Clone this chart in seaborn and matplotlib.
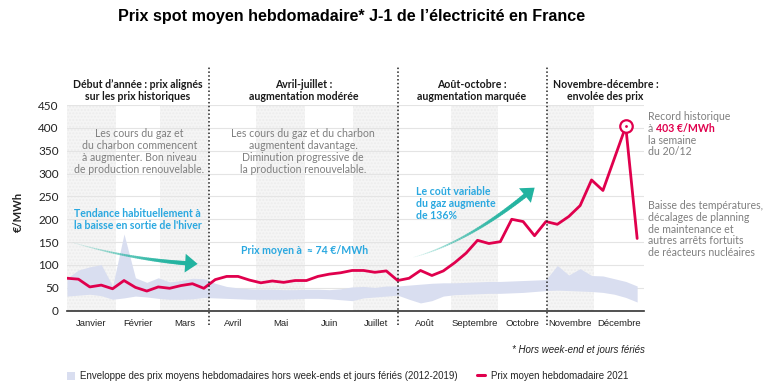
import numpy as np
import pandas as pd
import seaborn as sns
import matplotlib.pyplot as plt
from matplotlib.collections import LineCollection
from matplotlib.patches import Patch, FancyArrowPatch
from matplotlib.lines import Line2D

# weekly spot price 2021 (EUR/MWh), one value per week
price_2021 = [71, 69, 52, 56, 48, 66, 51, 43, 52, 49, 55, 59, 49, 68, 75, 75, 67,
              61, 65, 62, 66, 66, 75, 80, 83, 88, 88, 84, 87, 66, 71, 88, 77, 87,
              105, 126, 154, 147, 151, 200, 195, 164, 195, 189, 206, 230, 286,
              263, 333, 403, 158]
# envelope of weekly prices 2012-2019
env_high = [71, 89, 96, 101, 54, 168, 72, 62, 72, 63, 66, 71, 70, 60, 53, 50, 48,
            47, 47, 46, 46, 47, 47, 46, 48, 52, 53, 51, 54, 54, 56, 58, 60, 61,
            61, 62, 63, 64, 64, 65, 66, 67, 68, 99, 78, 92, 77, 76, 70, 64, 54]
env_low = [32, 34, 36, 33, 25, 28, 32, 30, 27, 25, 25, 26, 29, 28, 27, 26, 25,
           25, 25, 25, 26, 27, 27, 26, 24, 22, 28, 30, 32, 34, 25, 17, 22, 32,
           35, 36, 37, 38, 38, 39, 40, 42, 44, 45, 44, 43, 42, 40, 36, 29, 19]

months = ['Janvier', 'Février', 'Mars', 'Avril', 'Mai', 'Juin', 'Juillet',
          'Août', 'Septembre', 'Octobre', 'Novembre', 'Décembre']
# month boundaries expressed in weeks
month_edges = [0, 4.3, 8.16, 12.46, 16.6, 20.9, 25.1, 29.1, 33.7, 37.8, 42.1, 46.2, 50.6]
period_breaks = [12.45, 29.05, 42.05]

df = pd.DataFrame({'semaine': np.arange(len(price_2021)), 'prix': price_2021,
                   'haut': env_high, 'bas': env_low})

RED = '#e0004d'
BLUE = '#2aa8e0'
TEAL = '#22b3a0'
GREY = '#7f7f7f'
ENV = '#d9def0'

sns.set_theme(style='white')
plt.rcParams['font.family'] = ['Lato', 'DejaVu Sans']
NARROW = ['Liberation Sans Narrow', 'Liberation Sans', 'DejaVu Sans']

W, H = 774, 389
fig = plt.figure(figsize=(W / 100, H / 100), dpi=100)
ax = fig.add_axes([67 / W, 1 - 310.7 / H, 577 / W, 205.7 / H])


def px(x, y):
    return x / W, 1 - y / H


# alternating month shading
for i in range(0, 12, 2):
    ax.axvspan(month_edges[i], month_edges[i + 1], ymin=0, ymax=1,
               facecolor='#f5f5f5', edgecolor='#ececec', hatch='.....', lw=0, zorder=0)

for v in range(50, 451, 50):
    ax.axhline(v, color='#e4e4e4', lw=0.8, zorder=1)

ax.fill_between(df['semaine'], df['bas'], df['haut'], color=ENV, lw=0, zorder=2)
sns.lineplot(data=df, x='semaine', y='prix', color=RED, lw=2, ax=ax, zorder=4)

# record marker
imax = int(np.argmax(price_2021))
ax.plot(imax, price_2021[imax], marker='o', ms=9, mfc='white', mec=RED, mew=1.6,
        zorder=5)
ax.plot(imax, price_2021[imax], marker='o', ms=1, color=RED, zorder=6)

for b in period_breaks:
    ax.axvline(b, ymin=-0.07, ymax=1.19, color='#222222', ls=(0, (1, 1.5)),
               lw=1.1, clip_on=False, zorder=6)

ax.set_xlim(0, 50.6)
ax.set_ylim(0, 450)
ax.set_yticks(range(0, 451, 50))
ax.set_xticks([(month_edges[i] + month_edges[i + 1]) / 2 for i in range(12)])
ax.set_xticklabels(months, family=NARROW, fontsize=6.8, color='#222222')
ax.tick_params(axis='y', length=0, pad=6, labelsize=8.5, labelcolor='#222222')
ax.tick_params(axis='x', length=0, pad=6)
ax.set_xlabel('')
ax.set_ylabel('')
for s in ['top', 'right', 'left']:
    ax.spines[s].set_visible(False)
ax.spines['bottom'].set_color('#333333')
ax.spines['bottom'].set_linewidth(1.2)
ax.set_facecolor('white')


def curved_arrow(p0, c, p2):
    t = np.linspace(0, 1, 60)[:, None]
    p0, c, p2 = np.array(p0), np.array(c), np.array(p2)
    pts = (1 - t) ** 2 * p0 + 2 * (1 - t) * t * c + t ** 2 * p2
    segs = np.stack([pts[:-1], pts[1:]], axis=1)
    n = len(segs)
    widths = np.linspace(0.4, 3.4, n)
    alphas = np.linspace(0.08, 1, n)
    cols = [(0.133, 0.702, 0.627, a) for a in alphas]
    lc = LineCollection(segs[:-4], linewidths=widths[:-4], colors=cols[:-4],
                        capstyle='round', zorder=3)
    ax.add_collection(lc)
    arr = FancyArrowPatch(tuple(pts[-8]), tuple(pts[-1]),
                          arrowstyle='-|>,head_length=0.6,head_width=0.45',
                          mutation_scale=15, color=TEAL, lw=0, zorder=3)
    ax.add_patch(arr)


curved_arrow((0.5, 149), (6.1, 108.5), (11.7, 102))
curved_arrow((30.4, 117), (35.4, 151), (41.2, 273))

# title and axis label
fig.text(*px(352, 17), 'Prix spot moyen hebdomadaire* J-1 de l’électricité en France',
         ha='center', va='center', fontsize=11.6, fontweight='bold',
         family=NARROW, color='black')
fig.text(*px(18, 212), '€/MWh', rotation=90, ha='center', va='center',
         fontsize=8, fontweight='bold', color='#222222')

headers = [('Début d’année : prix alignés\nsur les prix historiques', 137.5),
           ('Avril-juillet :\naugmentation modérée', 304),
           ('Août-octobre :\naugmentation marquée', 471.5),
           ('Novembre-décembre :\nenvolée des prix', 605.5)]
for txt, x in headers:
    fig.text(*px(x, 90.5), txt, ha='center', va='center', fontsize=7.6,
             fontweight='bold', color='#1a1a1a', linespacing=1.1)

fig.text(*px(139.5, 151.5),
         'Les cours du gaz et\ndu charbon commencent\nà augmenter. Bon niveau\nde production renouvelable.',
         ha='center', va='center', fontsize=7.6, color=GREY, linespacing=1.12)
fig.text(*px(303, 151.5),
         'Les cours du gaz et du charbon\naugmentent davantage.\nDiminution progressive de\nla production renouvelable.',
         ha='center', va='center', fontsize=7.6, color=GREY, linespacing=1.12)

fig.text(*px(137.5, 219.5), "Tendance habituellement à\nla baisse en sortie de l'hiver",
         ha='center', va='center', fontsize=7.6, fontweight='bold', color=BLUE,
         linespacing=1.05)
fig.text(*px(304.5, 250.7), 'Prix moyen à  ≈ 74 €/MWh', ha='center', va='center',
         fontsize=7.6, fontweight='bold', color=BLUE)
fig.text(*px(416, 203.3), 'Le coût variable\ndu gaz augmente\nde 136%', ha='left',
         va='center', fontsize=7.6, fontweight='bold', color=BLUE, linespacing=1.12)

fig.text(*px(648, 116.7), 'Record historique', ha='left', va='center',
         fontsize=7.6, color=GREY)
fig.text(*px(648, 128.4), 'à', ha='left', va='center', fontsize=7.6, color=GREY)
fig.text(*px(656, 128.4), '403 €/MWh', ha='left', va='center', fontsize=7.6,
         fontweight='bold', color=RED)
fig.text(*px(648, 140.1), 'la semaine', ha='left', va='center', fontsize=7.6, color=GREY)
fig.text(*px(648, 151.8), 'du 20/12', ha='left', va='center', fontsize=7.6, color=GREY)
fig.text(*px(648, 229),
         'Baisse des températures,\ndécalages de planning\nde maintenance et\nautres arrêts fortuits\nde réacteurs nucléaires',
         ha='left', va='center', fontsize=7.6, color=GREY, linespacing=1.1)

fig.text(*px(645, 350), '* Hors week-end et jours fériés', ha='right', va='center',
         fontsize=7, style='italic', family=NARROW, color='#222222')

handles = [Patch(facecolor=ENV, edgecolor='none'),
           Line2D([0], [0], color=RED, lw=2.2)]
labels = ['Enveloppe des prix moyens hebdomadaires hors week-ends et jours fériés (2012-2019)',
          'Prix moyen hebdomadaire 2021']
fig.legend(handles, labels, loc='center left', bbox_to_anchor=px(58, 376), ncol=2,
           frameon=False, prop={'family': NARROW, 'size': 7.0}, handlelength=0.8,
           handleheight=0.9, handletextpad=0.6, columnspacing=2.0)

fig.savefig('out.png', dpi=100, facecolor='white')
